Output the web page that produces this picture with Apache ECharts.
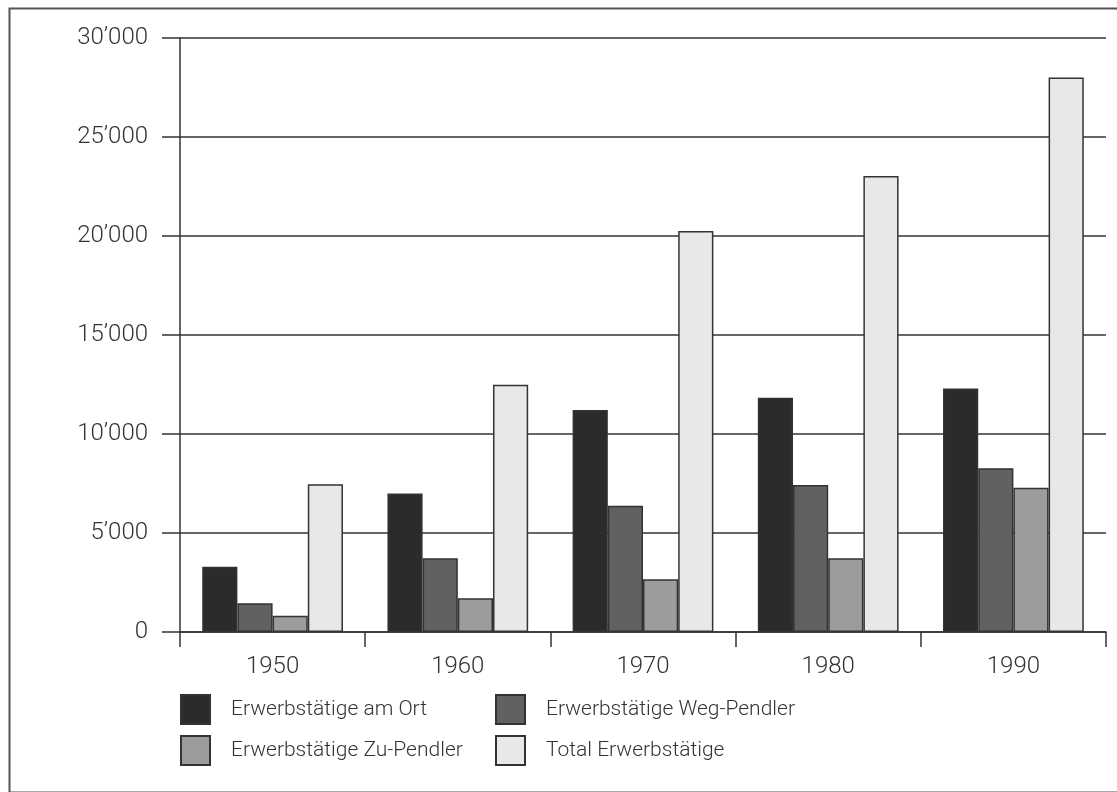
<!DOCTYPE html>
<html>
<head>
<meta charset="utf-8">
<script src="https://cdn.jsdelivr.net/npm/echarts@6/dist/echarts.min.js"></script>
<style>
html,body{margin:0;padding:0;background:#fff;}
#c{width:1117px;height:792px;}
</style>
</head>
<body>
<div id="c"></div>
<script>
var categories = ['1950', '1960', '1970', '1980', '1990'];
var seriesNames = ['Erwerbstätige am Ort', 'Erwerbstätige Weg-Pendler', 'Erwerbstätige Zu-Pendler', 'Total Erwerbstätige'];
var amOrt = [3300, 7000, 11210, 11830, 12300];
var wegPendler = [1450, 3720, 6380, 7420, 8270];
var zuPendler = [820, 1700, 2660, 3720, 7290];
var total = [7460, 12490, 20250, 23030, 28000];
var yTicks = [0, 5000, 10000, 15000, 20000, 25000, 30000];

var colors = ['#2b2b2b', '#616161', '#9c9c9c', '#e8e8e8'];
var FONT = 'Roboto, "Noto Sans", sans-serif';

function fmt(v) {
  return String(v).replace(/\B(?=(\d{3})+(?!\d))/g, '\u2019');
}

var allData = [amOrt, wegPendler, zuPendler, total];
var series = seriesNames.map(function (n, i) {
  return {
    name: n,
    type: 'bar',
    data: allData[i],
    barGap: '0%',
    barCategoryGap: '24%',
    itemStyle: { color: colors[i], borderColor: '#333', borderWidth: 1.5 }
  };
});

var legendText = { fontFamily: FONT, fontWeight: 300, fontSize: 21, color: '#333', padding: [0, 0, 0, 16] };

var chart = echarts.init(document.getElementById('c'), null, { renderer: 'canvas' });
chart.setOption({
  backgroundColor: '#fff',
  animation: false,
  textStyle: { fontFamily: FONT },
  graphic: [{
    type: 'rect',
    left: 7, top: 6,
    shape: { width: 1125, height: 784 },
    style: { fill: 'none', stroke: '#555', lineWidth: 2 },
    silent: true
  }],
  grid: { left: 180, right: 11, top: 38, bottom: 160 },
  legend: [{
    data: [seriesNames[0], seriesNames[2]],
    orient: 'vertical',
    left: 175, top: 689,
    itemWidth: 29, itemHeight: 29, itemGap: 10,
    icon: 'rect',
    textStyle: legendText
  }, {
    data: [seriesNames[1], seriesNames[3]],
    orient: 'vertical',
    left: 490, top: 689,
    itemWidth: 29, itemHeight: 29, itemGap: 10,
    icon: 'rect',
    textStyle: legendText
  }],
  xAxis: {
    type: 'category',
    data: categories,
    axisLine: { lineStyle: { color: '#333', width: 1.5 } },
    axisTick: { show: true, length: 15, interval: 0, lineStyle: { color: '#333', width: 1.5 } },
    axisLabel: { fontFamily: FONT, fontWeight: 300, fontSize: 24, color: '#333', margin: 23 }
  },
  yAxis: {
    type: 'value',
    min: yTicks[0],
    max: yTicks[yTicks.length - 1],
    interval: yTicks[1] - yTicks[0],
    axisLine: { show: true, lineStyle: { color: '#333', width: 1.5 } },
    axisTick: { show: true, length: 18, lineStyle: { color: '#333', width: 1.5 } },
    splitLine: { show: true, lineStyle: { color: '#333', width: 1.5 } },
    axisLabel: { fontFamily: FONT, fontWeight: 300, fontSize: 24, color: '#333', margin: 32, formatter: fmt }
  },
  series: series
});
</script>
</body>
</html>
